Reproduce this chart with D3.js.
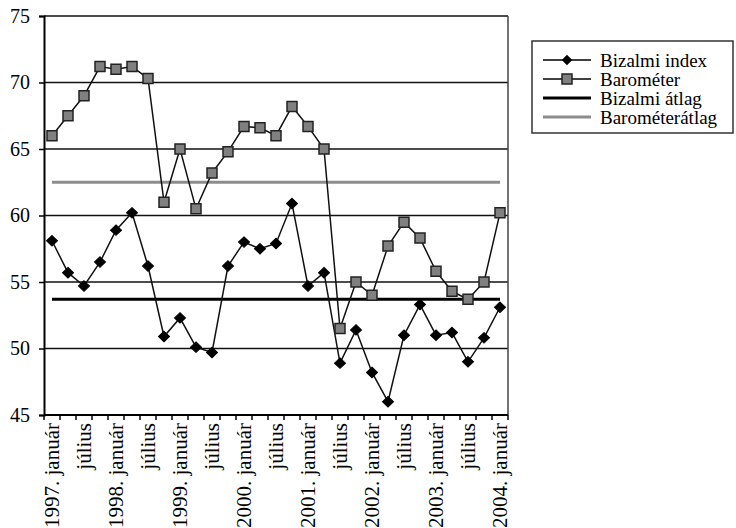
<!DOCTYPE html>
<html><head><meta charset="utf-8">
<script src="https://cdn.jsdelivr.net/npm/d3@7"></script>
<style>body{margin:0;background:#fff}svg{display:block}text{font-family:"Liberation Serif","Times New Roman",serif}</style>
</head><body><svg id="c" width="736" height="528"></svg>
<script>
const periods = d3.range(29).map(i => "Q" + i);
const xLabels = ["1997. január","július","1998. január","július","1999. január","július","2000. január","július","2001. január","július","2002. január","július","2003. január","július","2004. január"];
const bizalmiIndex = [58.1,55.7,54.7,56.5,58.9,60.2,56.2,50.9,52.3,50.1,49.7,56.2,58.0,57.5,57.9,60.9,54.7,55.7,48.9,51.4,48.2,46.0,51.0,53.3,51.0,51.2,49.0,50.8,53.1];
const barometer = [66.0,67.5,69.0,71.2,71.0,71.2,70.3,61.0,65.0,60.5,63.2,64.8,66.7,66.6,66.0,68.2,66.7,65.0,51.5,55.0,54.0,57.7,59.5,58.3,55.8,54.3,53.7,55.0,60.2];
const bizalmiAtlag = 53.7;
const barometerAtlag = 62.5;
const yTicks = [45,50,55,60,65,70,75];
const legendNames = ["Bizalmi index","Barométer","Bizalmi átlag","Barométerátlag"];

const svg = d3.select("#c");
const L = 44, R = 508, T = 16, B = 415;
const x = d3.scaleBand().domain(periods).range([L, R]).padding(0);
const y = d3.scaleLinear().domain([45, 75]).range([B, T]);
const cx = d => x(d) + x.bandwidth() / 2;
const FS = 20;

// gridlines
svg.append("g").selectAll("line").data(yTicks.filter(t => t > 45)).join("line")
  .attr("x1", L).attr("x2", R).attr("y1", d => y(d)).attr("y2", d => y(d))
  .attr("stroke", "#111").attr("stroke-width", 1.5);
// border right
svg.append("line").attr("x1", R).attr("x2", R).attr("y1", T).attr("y2", B).attr("stroke", "#444").attr("stroke-width", 1.5);

// y axis
const yAx = svg.append("g").attr("transform", `translate(${L},0)`)
  .call(d3.axisLeft(y).tickValues(yTicks).tickSize(5).tickPadding(9));
yAx.select(".domain").attr("stroke", "#000").attr("stroke-width", 2);
yAx.selectAll(".tick line").attr("stroke", "#000").attr("stroke-width", 1.5);
yAx.selectAll("text").attr("font-size", FS).attr("fill", "#000").style("font-family", "Liberation Serif");

// x axis (ticks at category boundaries)
const xAx = svg.append("g").attr("transform", `translate(0,${B})`);
xAx.append("line").attr("x1", L).attr("x2", R).attr("stroke", "#000").attr("stroke-width", 2);
xAx.selectAll("line.tk").data(d3.range(periods.length + 1)).join("line").attr("class", "tk")
  .attr("x1", i => L + i * x.bandwidth()).attr("x2", i => L + i * x.bandwidth())
  .attr("y1", 0).attr("y2", 5).attr("stroke", "#000").attr("stroke-width", 1.5);
xAx.selectAll("text").data(xLabels).join("text")
  .attr("transform", (d, i) => `translate(${cx(periods[i * 2]) + 7},8) rotate(-90)`)
  .attr("text-anchor", "end").attr("font-size", 21).text(d => d);

// averages
const avg = (v, col) => svg.append("line")
  .attr("x1", cx(periods[0])).attr("x2", cx(periods[periods.length - 1]))
  .attr("y1", y(v)).attr("y2", y(v)).attr("stroke", col).attr("stroke-width", 3);
avg(barometerAtlag, "#8c8c8c");
avg(bizalmiAtlag, "#000");

// series lines
const line = d3.line().x((d, i) => cx(periods[i])).y(d => y(d));
svg.append("path").datum(barometer).attr("d", line).attr("fill", "none").attr("stroke", "#111").attr("stroke-width", 1.5);
svg.append("path").datum(bizalmiIndex).attr("d", line).attr("fill", "none").attr("stroke", "#111").attr("stroke-width", 1.5);

// markers
const sq = d3.symbol().type(d3.symbolSquare).size(100);
const dm = d3.symbol().type(d3.symbolDiamond2).size(70);
svg.append("g").selectAll("path").data(barometer).join("path")
  .attr("d", sq).attr("transform", (d, i) => `translate(${cx(periods[i])},${y(d)})`)
  .attr("fill", "#808080").attr("stroke", "#222").attr("stroke-width", 1.5);
svg.append("g").selectAll("path").data(bizalmiIndex).join("path")
  .attr("d", dm).attr("transform", (d, i) => `translate(${cx(periods[i])},${y(d)}) scale(1.05,1)`)
  .attr("fill", "#000").attr("stroke", "#000").attr("stroke-width", 1);

// legend
const lg = svg.append("g");
lg.append("rect").attr("x", 532).attr("y", 41).attr("width", 201).attr("height", 92)
  .attr("fill", "#fff").attr("stroke", "#333").attr("stroke-width", 1.5);
const rowY = i => 60 + i * 19;
legendNames.forEach((n, i) => {
  const yy = rowY(i);
  const col = i === 3 ? "#8c8c8c" : "#000";
  lg.append("line").attr("x1", 543).attr("x2", 591).attr("y1", yy).attr("y2", yy)
    .attr("stroke", col).attr("stroke-width", i >= 2 ? 3 : 1.5);
  if (i === 0) lg.append("path").attr("d", dm).attr("transform", `translate(567,${yy})`).attr("fill", "#000");
  if (i === 1) lg.append("path").attr("d", sq).attr("transform", `translate(567,${yy})`)
    .attr("fill", "#808080").attr("stroke", "#222").attr("stroke-width", 1.5);
  lg.append("text").attr("x", 600).attr("y", yy).attr("dy", "0.35em").attr("font-size", 19).text(n);
});
</script></body></html>
